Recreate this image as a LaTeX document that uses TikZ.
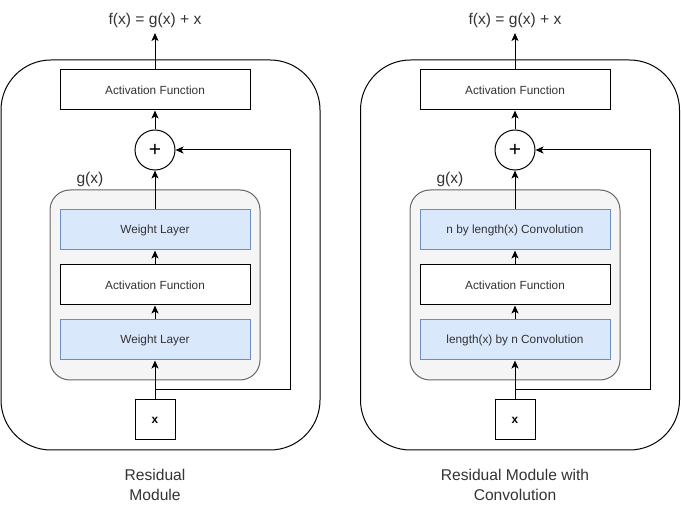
\documentclass[tikz,border=0pt]{standalone}
\usepackage{fontspec}
\setmainfont{Liberation Sans}
\usetikzlibrary{positioning,arrows.meta}

\definecolor{blockblue}{HTML}{DAE8FC}
\definecolor{edgeblue}{HTML}{6C8EBF}
\definecolor{groupgray}{HTML}{F5F5F5}
\definecolor{edgegray}{HTML}{666666}
\definecolor{txtgray}{HTML}{333333}

\tikzset{
	layer/.style={draw, fill=white, minimum width=190pt, minimum height=40pt, inner sep=0pt, text=txtgray, font=\fontsize{11.8}{14}\selectfont},
	weight/.style={layer, fill=blockblue, draw=edgeblue},
	group/.style={draw=edgegray, fill=groupgray, rounded corners=20pt, minimum width=210pt, minimum height=190pt},
	panel/.style={draw, rounded corners=50pt, minimum width=319pt, minimum height=390pt},
	adder/.style={draw, fill=white, circle, minimum size=40pt, inner sep=0pt, font=\fontsize{21}{21}\selectfont},
	inbox/.style={draw, fill=white, minimum size=40pt, inner sep=0pt, font=\bfseries\fontsize{11.8}{14}\selectfont},
	caption/.style={align=center, inner sep=0pt, text=txtgray, font=\fontsize{15.6}{20}\selectfont},
	arr/.style={-{Stealth[length=8pt,width=7pt,inset=2pt]}},
}

\begin{document}
\begin{tikzpicture}[x=1pt, y=-1pt, line width=1pt]
		\useasboundingbox (0,0) rectangle (681,505);

		% LEFT BLOCKS
		\node[panel] (panL) at (160.5,255) {};
		\node[group] (gL) at (155,285) {};
		\node[caption] (gLblL) at (90,179) {g(x)};
		\node[layer] (actOutL) at (155,90) {Activation Function};
		\node[adder] (plusL) at (155,150) {+};
		\node[weight] (wOutL) at (155,230) {Weight Layer};
		\node[layer] (actInL) at (155,285) {Activation Function};
		\node[weight] (wInL) at (155,340) {Weight Layer};
		\node[inbox] (xL) at (155,420) {x};
		\coordinate (topL) at (155,33);
		\node[caption, above=5pt of topL] (fL) {f(x) = g(x) + x};
		\coordinate (splitL) at (155,390);
		\coordinate (turnL) at (290,390);
		\node[caption] (capL) at (155,485) {Residual\\Module};

		% RIGHT BLOCKS
		\node[panel] (panR) at (520,255) {};
		\node[group] (gR) at (515,285) {};
		\node[caption] (gLblR) at (450,179) {g(x)};
		\node[layer] (actOutR) at (515,90) {Activation Function};
		\node[adder] (plusR) at (515,150) {+};
		\node[weight] (wOutR) at (515,230) {n by length(x) Convolution};
		\node[layer] (actInR) at (515,285) {Activation Function};
		\node[weight] (wInR) at (515,340) {length(x) by n Convolution};
		\node[inbox] (xR) at (515,420) {x};
		\coordinate (topR) at (515,33);
		\node[caption, above=5pt of topR] (fR) {f(x) = g(x) + x};
		\coordinate (splitR) at (515,390);
		\coordinate (turnR) at (650,390);
		\node[caption] (capR) at (515,485) {Residual Module with\\Convolution};

		% ARROWS
		\draw[arr] (xL) -- (wInL);
		\draw[arr] (wInL) -- (actInL);
		\draw[arr] (actInL) -- (wOutL);
		\draw[arr] (wOutL) -- (plusL);
		\draw[arr] (plusL) -- (actOutL);
		\draw[arr] (actOutL) -- (topL);
		\draw[arr] (splitL) -- (turnL) |- (plusL);

		\draw[arr] (xR) -- (wInR);
		\draw[arr] (wInR) -- (actInR);
		\draw[arr] (actInR) -- (wOutR);
		\draw[arr] (wOutR) -- (plusR);
		\draw[arr] (plusR) -- (actOutR);
		\draw[arr] (actOutR) -- (topR);
		\draw[arr] (splitR) -- (turnR) |- (plusR);
	\end{tikzpicture}
\end{document}
